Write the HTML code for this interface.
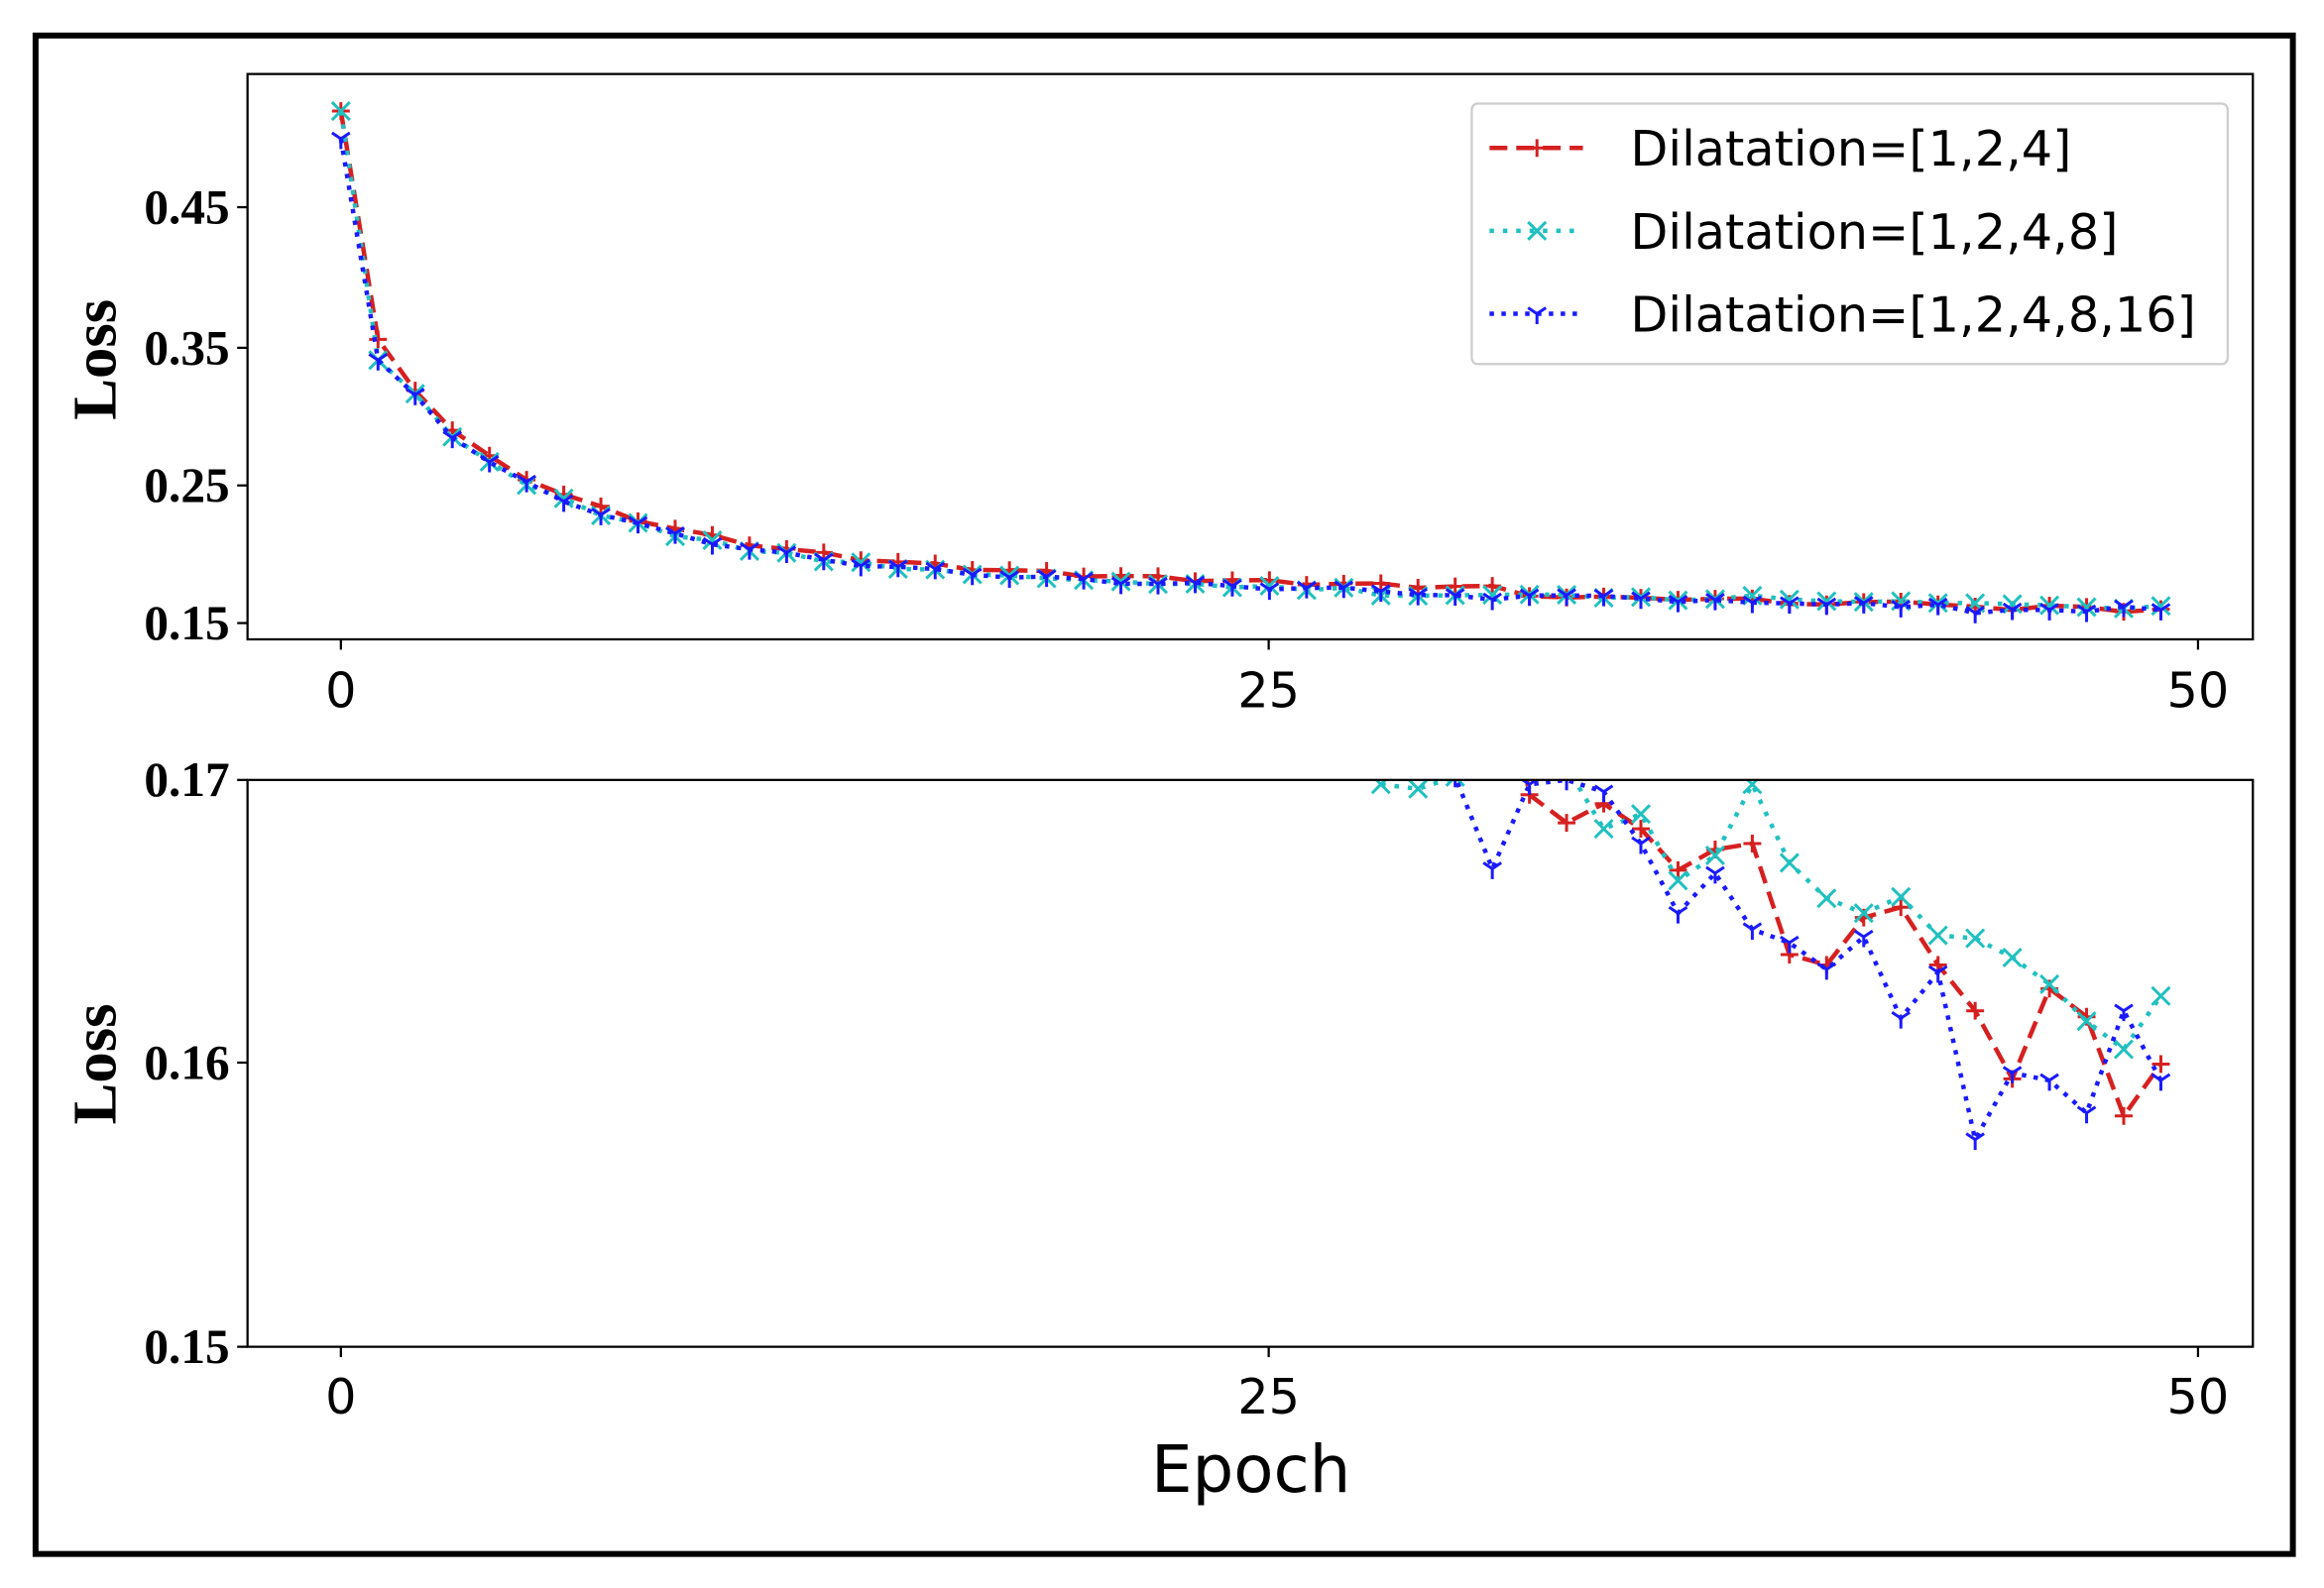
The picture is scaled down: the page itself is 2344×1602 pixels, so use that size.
<!DOCTYPE html>
<html><head><meta charset="utf-8"><style>
html,body{margin:0;padding:0;background:#fff;}
svg{display:block}
</style></head><body>
<svg id="s" width="2344" height="1602" viewBox="0 0 1568 1073" preserveAspectRatio="none" xmlns="http://www.w3.org/2000/svg">
<rect x="0" y="0" width="1568" height="1073" fill="#fff"/>
<rect x="24" y="24" width="1523" height="1026" fill="none" stroke="#000" stroke-width="4"/>
<defs>
<clipPath id="c1"><rect x="167" y="50" width="1353" height="382"/></clipPath>
<clipPath id="c2"><rect x="167" y="527" width="1353" height="383"/></clipPath>
</defs>
<g id="gtop" clip-path="url(#c1)"></g>
<g id="gbot" clip-path="url(#c2)"></g>
<rect x="167" y="50" width="1353" height="382" fill="none" stroke="#000" stroke-width="1.5"/>
<rect x="167" y="527" width="1353" height="383" fill="none" stroke="#000" stroke-width="1.5"/>
<g font-family="Liberation Serif, serif" font-weight="bold" font-size="33" text-anchor="end">
<text x="155" y="151">0.45</text><text x="155" y="246">0.35</text><text x="155" y="339">0.25</text><text x="155" y="432">0.15</text>
<text x="155" y="538">0.17</text><text x="155" y="729">0.16</text><text x="155" y="921">0.15</text>
</g>
<g stroke="#000" stroke-width="1.5">
<line x1="160" y1="140" x2="167" y2="140"/><line x1="160" y1="235" x2="167" y2="235"/><line x1="160" y1="328" x2="167" y2="328"/><line x1="160" y1="421" x2="167" y2="421"/>
<line x1="160" y1="527" x2="167" y2="527"/><line x1="160" y1="718" x2="167" y2="718"/><line x1="160" y1="910" x2="167" y2="910"/>
<line x1="230" y1="432" x2="230" y2="439"/><line x1="856" y1="432" x2="856" y2="439"/><line x1="1483" y1="432" x2="1483" y2="439"/>
<line x1="230" y1="910" x2="230" y2="917"/><line x1="856" y1="910" x2="856" y2="917"/><line x1="1483" y1="910" x2="1483" y2="917"/>
</g>
<g font-family="Liberation Serif, serif" font-weight="bold" font-size="42" text-anchor="middle">
<text transform="translate(78,243) rotate(-90)">Loss</text>
<text transform="translate(78,719) rotate(-90)">Loss</text>
</g>
<g font-family="DejaVu Sans, Liberation Sans, sans-serif" font-size="33" text-anchor="middle">
<text x="230" y="478">0</text><text x="856" y="478">25</text><text x="1483" y="478">50</text>
<text x="230" y="955">0</text><text x="856" y="955">25</text><text x="1483" y="955">50</text>
<text x="844" y="1008" font-size="44">Epoch</text>
</g>
<rect x="993" y="70" width="510" height="176" rx="4" fill="#fff" stroke="#ccc" stroke-width="1.5"/>
<g font-family="DejaVu Sans, Liberation Sans, sans-serif" font-size="33">
<text x="1100" y="112">Dilatation=[1,2,4]</text>
<text x="1100" y="168">Dilatation=[1,2,4,8]</text>
<text x="1100" y="224">Dilatation=[1,2,4,8,16]</text>
</g>
<g id="leg"></g>
</svg>
<script>
(function(){
var NS="http://www.w3.org/2000/svg";
function el(p,t,a){var e=document.createElementNS(NS,t);for(var k in a)e.setAttribute(k,a[k]);p.appendChild(e);return e;}
function X(e){return 230+e*25.06;}
function base(e){return 0.17+0.01*(32-e)/32+0.13*Math.exp(-e/4.5)+0.17*Math.exp(-e*1.3)+0.05*Math.exp(-e/10);}
var rB={32:537,33:556,34:543,35:560,36:588,37:574,38:570,39:645,40:652,41:620,42:613,43:652,44:683,45:729,46:668,47:687,48:754,49:719};
var cB={28:530,29:533,30:525,31:520,32:515,33:518,34:560,35:550,36:595,37:578,38:530,39:583,40:607,41:617,42:606,43:632,44:634,45:647,46:665,47:690,48:709,49:673};
var bB={29:520,30:525,31:587,32:530,33:527,34:535,35:570,36:617,37:590,38:628,39:637,40:655,41:633,42:688,43:657,44:770,45:725,46:730,47:752,48:683,49:730};
function series(B,off,j){var v=[];for(var e=0;e<50;e++){var y;
 if(B[e]!==undefined){y=0.17-(B[e]-527)/19150;}else{y=base(e)+off+(Math.sin(e*j)*0.0015);}
 v.push(y);}return v;}
var sets=[
 {v:series(rB,0.003,2.1),c:"#d62020",d:"12,6",m:"+"},
 {v:series(cB,-0.001,3.3),c:"#20c0c0",d:"3,6",m:"x"},
 {v:series(bB,-0.001,1.7),c:"#1a1aff",d:"3,5",m:"t"}];
sets[0].v[0]=0.52;sets[1].v[0]=0.52;sets[2].v[0]=0.50;
sets[0].v[1]=0.355;sets[1].v[1]=0.34;sets[2].v[1]=0.34;
function mark(g,m,x,y,c){
 if(m=="+"){el(g,"path",{d:"M"+(x-6)+","+y+"h12M"+x+","+(y-6)+"v12",stroke:c,"stroke-width":2,fill:"none"});}
 else if(m=="x"){el(g,"path",{d:"M"+(x-6)+","+(y-6)+"l12,12M"+(x-6)+","+(y+6)+"l12,-12",stroke:c,"stroke-width":2,fill:"none"});}
 else {el(g,"path",{d:"M"+x+","+y+"v7M"+x+","+y+"l-6,-4M"+x+","+y+"l6,-4",stroke:c,"stroke-width":2,fill:"none"});}
}
var gTop=document.getElementById("gtop"),gBot=document.getElementById("gbot");
function YT(v){return 421-(v-0.15)*935;}
function YB(v){return 527+(0.17-v)*19150;}
sets.forEach(function(s){
 [[gTop,YT],[gBot,YB]].forEach(function(p){
  var d="";s.v.forEach(function(v,e){d+=(e?"L":"M")+X(e).toFixed(1)+","+p[1](v).toFixed(1);});
  el(p[0],"path",{d:d,fill:"none",stroke:s.c,"stroke-width":3,"stroke-dasharray":s.d});
  s.v.forEach(function(v,e){mark(p[0],s.m,X(e),p[1](v),s.c);});
 });
});
var leg=document.getElementById("leg");
[100,156,212].forEach(function(y,i){var s=sets[i];
 el(leg,"path",{d:"M1005,"+y+"H1068",stroke:s.c,"stroke-width":3,"stroke-dasharray":s.d,fill:"none"});
 mark(leg,s.m,1037,y,s.c);});
})();
</script>
</body></html>
